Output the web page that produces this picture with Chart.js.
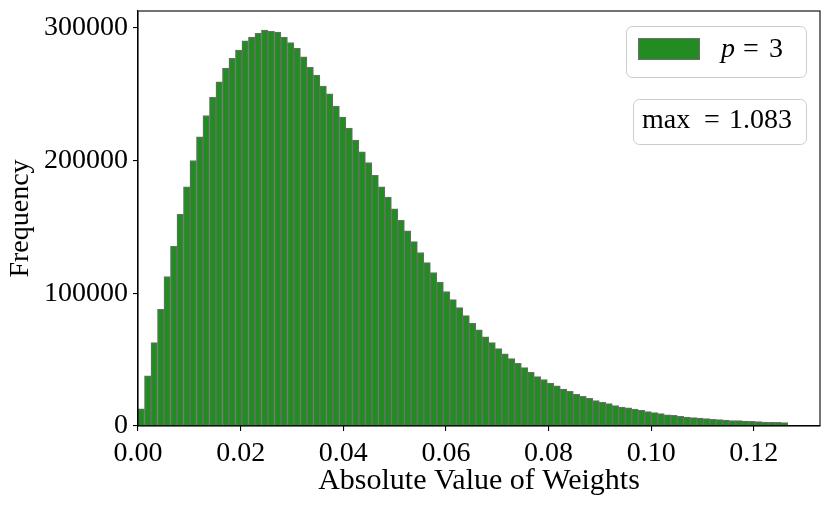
<!DOCTYPE html>
<html>
<head>
<meta charset="utf-8">
<script src="https://cdn.jsdelivr.net/npm/chart.js@4.4.1/dist/chart.umd.min.js"></script>
<style>
  html, body { margin: 0; padding: 0; background: #fff; }
  #wrap { width: 831px; height: 508px; position: relative; }
</style>
</head>
<body>
<div id="wrap"><canvas id="hist"></canvas></div>
<script>
/* Histogram of absolute weight values, p = 3 (100 bins). */

const BIN_WIDTH = 0.001266;
const COUNTS = [
  13000, 37700, 62800, 87900, 112600, 135400, 159500, 180200, 200000, 217800,
  233900, 247500, 259300, 269600, 276900, 283200, 290200, 293000, 295700, 298200,
  297200, 296700, 293000, 288900, 284400, 278100, 270100, 264300, 256000, 250300,
  241000, 232700, 224400, 215300, 206500, 198500, 188900, 180200, 172400, 163600,
  155000, 147000, 138900, 130700, 123100, 115600, 108500, 101300, 95200, 89200,
  83200, 77400, 72400, 67100, 62800, 58300, 54300, 50800, 47200, 44000,
  40500, 37200, 34900, 32400, 30200, 27900, 26200, 23900, 22400, 20900,
  19100, 17800, 16800, 15300, 14300, 13600, 12800, 11800, 10800, 10100,
  9300, 8500, 8000, 7300, 6800, 6300, 6000, 5500, 5000, 4800,
  4500, 4000, 4000, 3800, 3500, 3300, 3000, 2800, 2800, 2500,
];
const X_TICKS = [0, 0.02, 0.04, 0.06, 0.08, 0.10, 0.12];
const Y_TICKS = [0, 100000, 200000, 300000];
const SERIES_LABEL = ["p", "=", "3"];
const MAX_NOTE = ["max", "=", "1.083"];

const GREEN = "#228b22";
const EDGE = "#6e6e6e";
const FONT = "'Liberation Serif', 'DejaVu Serif', serif";

const points = COUNTS.map((c, i) => ({ x: (i + 0.5) * BIN_WIDTH, y: c }));

function roundBox(ctx, x, y, w, h, r) {
  ctx.beginPath();
  ctx.roundRect(x, y, w, h, r);
  ctx.fillStyle = "rgba(255,255,255,0.8)";
  ctx.fill();
  ctx.strokeStyle = "#cccccc";
  ctx.lineWidth = 1;
  ctx.stroke();
}

// pieces of a math-style label, each at its own x (mimics TeX spacing round "=")
function mathText(ctx, parts, xs, y, italicFirst) {
  parts.forEach((t, i) => {
    ctx.font = (i === 0 && italicFirst ? "italic " : "") + "28px " + FONT;
    ctx.fillText(t, xs[i], y);
  });
}

// frame on all four sides + legend box + "max" box
const decor = {
  id: "decor",
  afterDraw(chart) {
    const { ctx, chartArea: a } = chart;
    ctx.save();
    ctx.strokeStyle = "#000";
    ctx.lineWidth = 1.1;
    ctx.strokeRect(a.left, a.top, a.right - a.left, a.bottom - a.top);

    roundBox(ctx, 626.5, 26.5, 180, 51, 6);
    ctx.fillStyle = GREEN;
    ctx.fillRect(638, 38, 62, 22);
    ctx.strokeStyle = EDGE;
    ctx.strokeRect(638.5, 38.5, 61, 21);

    ctx.fillStyle = "#000";
    ctx.textBaseline = "alphabetic";
    mathText(ctx, SERIES_LABEL, [721, 743, 769], 57, true);

    roundBox(ctx, 633.5, 99.5, 173, 45, 6);
    ctx.fillStyle = "#000";
    mathText(ctx, MAX_NOTE, [642, 704, 729], 128, false);
    ctx.restore();
  },
};

const tickGrid = { display: true, drawOnChartArea: false, drawTicks: true, tickLength: 5,
                   color: "#000", lineWidth: 1.1, offset: false };

new Chart(document.getElementById("hist"), {
  type: "bar",
  data: {
    datasets: [{
      label: SERIES_LABEL.join(" "), data: points,
      backgroundColor: GREEN, borderColor: EDGE, borderWidth: 1,
      barPercentage: 1, categoryPercentage: 1,
    }],
  },
  options: {
    responsive: true, maintainAspectRatio: false, animation: false,
    layout: { padding: { top: 11, right: 11, left: 0, bottom: 0 } },
    plugins: { legend: { display: false }, tooltip: { enabled: false } },
    scales: {
      x: {
        type: "linear", min: 0, max: 0.1329, offset: false,
        afterBuildTicks: s => { s.ticks = X_TICKS.map(v => ({ value: v })); },
        afterFit: s => { s.height = 82; s.paddingLeft = 0; s.paddingRight = 0; },
        ticks: { color: "#000", font: { family: FONT, size: 28 }, padding: 6,
                 maxRotation: 0, autoSkip: false, callback: v => v.toFixed(2) },
        grid: tickGrid,
        border: { display: true, color: "#000", width: 1.1 },
        title: { display: true, text: "Absolute Value of Weights", color: "#000",
                 font: { family: FONT, size: 30 }, padding: { top: 0, bottom: 9 } },
      },
      y: {
        min: 0, max: 312600,
        afterBuildTicks: s => { s.ticks = Y_TICKS.map(v => ({ value: v })); },
        afterFit: s => { s.width = 138; s.paddingTop = 0; s.paddingBottom = 0; },
        ticks: { color: "#000", font: { family: FONT, size: 28 }, padding: 5, callback: v => String(v) },
        grid: tickGrid,
        border: { display: true, color: "#000", width: 1.1 },
        title: { display: true, text: "Frequency", color: "#000",
                 font: { family: FONT, size: 28 }, padding: { top: 4, bottom: 4 } },
      },
    },
  },
  plugins: [decor],
});
</script>
</body>
</html>
